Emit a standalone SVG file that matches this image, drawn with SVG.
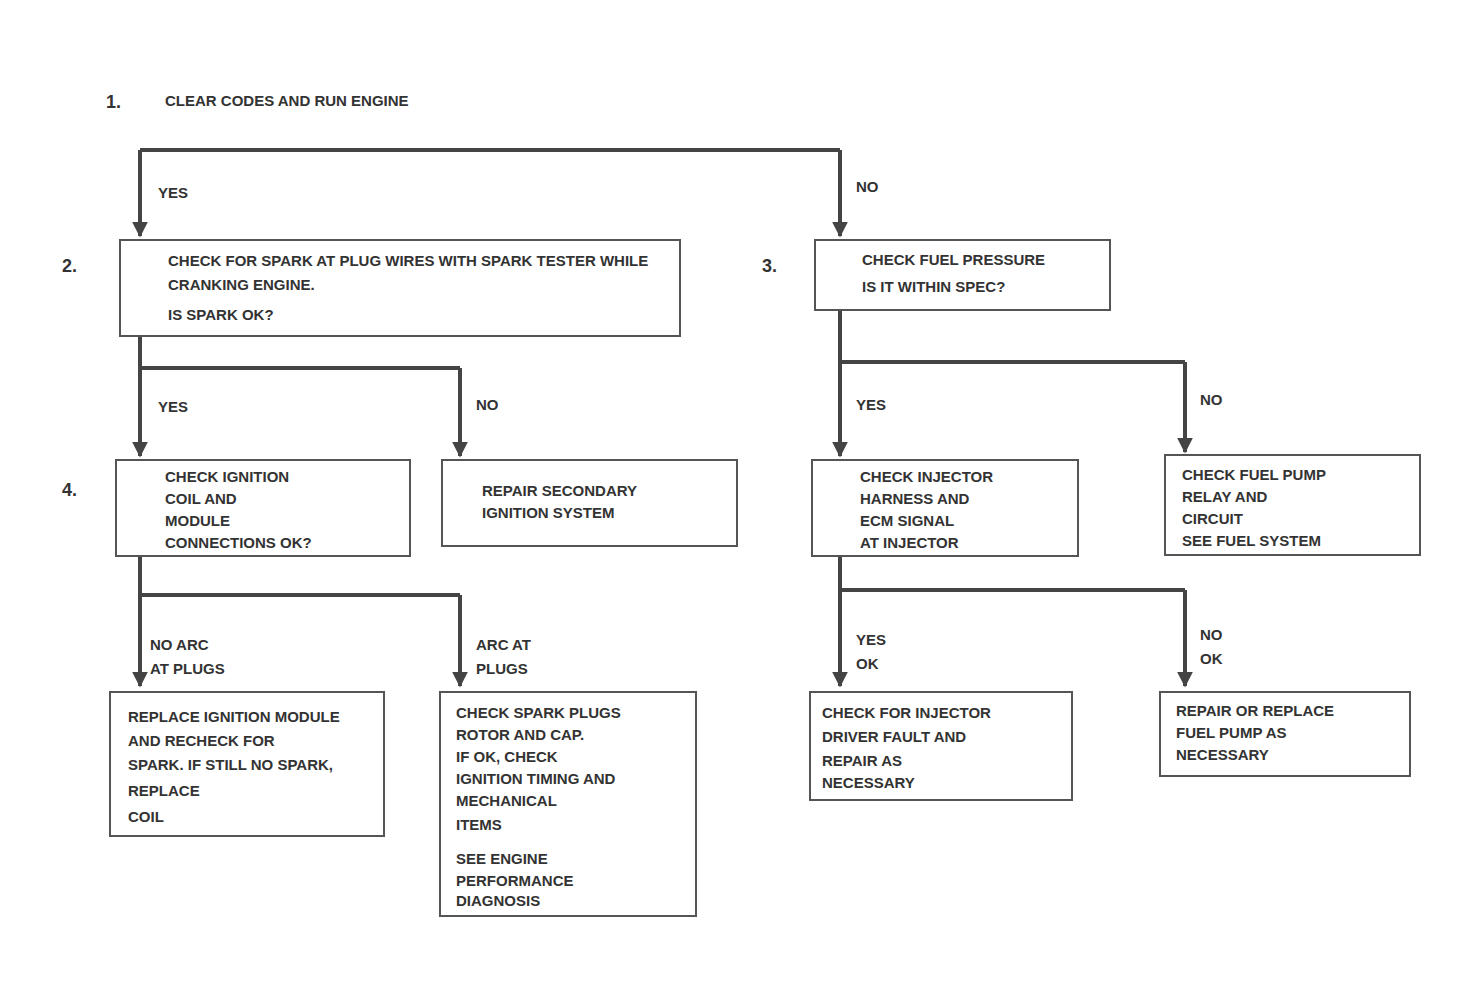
<svg xmlns="http://www.w3.org/2000/svg" width="1482" height="993" viewBox="0 0 1482 993">
<defs>
<style>
.box{fill:#fff;stroke:#555;stroke-width:2}
.t{font-family:"Liberation Sans",Arial,sans-serif;font-size:15px;font-weight:bold;fill:#333}
.n{font-family:"Liberation Sans",Arial,sans-serif;font-size:18px;font-weight:bold;fill:#333}
.c{fill:none;stroke:#444;stroke-width:4}
</style>
<marker id="ah" viewBox="0 0 10 10" refX="9" refY="5" markerWidth="4" markerHeight="4" orient="auto"><path d="M0,0L10,5L0,10z" fill="#444"/></marker>
</defs>
<rect width="1482" height="993" fill="#fff"/>
<g id="connectors">
<path class="c" d="M140,150H840"/>
<path class="c" d="M140,150V236" marker-end="url(#ah)"/>
<path class="c" d="M840,150V236" marker-end="url(#ah)"/>
<path class="c" d="M140,336V368H460"/>
<path class="c" d="M140,368V456" marker-end="url(#ah)"/>
<path class="c" d="M460,368V456" marker-end="url(#ah)"/>
<path class="c" d="M840,310V362H1185"/>
<path class="c" d="M840,362V456" marker-end="url(#ah)"/>
<path class="c" d="M1185,362V452" marker-end="url(#ah)"/>
<path class="c" d="M140,556V595H460"/>
<path class="c" d="M140,595V686" marker-end="url(#ah)"/>
<path class="c" d="M460,595V686" marker-end="url(#ah)"/>
<path class="c" d="M840,556V590H1185"/>
<path class="c" d="M840,590V686" marker-end="url(#ah)"/>
<path class="c" d="M1185,590V686" marker-end="url(#ah)"/>
<text class="t" x="158" y="198">YES</text>
<text class="t" x="856" y="192">NO</text>
<text class="t" x="158" y="412">YES</text>
<text class="t" x="476" y="410">NO</text>
<text class="t" x="856" y="410">YES</text>
<text class="t" x="1200" y="405">NO</text>
<text class="t" x="150" y="650">NO  ARC</text>
<text class="t" x="150" y="674">AT PLUGS</text>
<text class="t" x="476" y="650">ARC AT</text>
<text class="t" x="476" y="674">PLUGS</text>
<text class="t" x="856" y="645">YES</text>
<text class="t" x="856" y="669">OK</text>
<text class="t" x="1200" y="640">NO</text>
<text class="t" x="1200" y="664">OK</text>
</g>
<g id="n1">
<text class="n" x="106" y="108">1.</text>
<text class="t" x="165" y="106">CLEAR CODES AND RUN ENGINE</text>
</g>
<g id="n2">
<text class="n" x="62" y="272">2.</text>
<rect class="box" x="120" y="240" width="560" height="96"/>
<text class="t" x="168" y="266">CHECK FOR SPARK AT PLUG WIRES WITH SPARK TESTER WHILE</text>
<text class="t" x="168" y="290">CRANKING ENGINE.</text>
<text class="t" x="168" y="320">IS SPARK OK?</text>
</g>
<g id="n3">
<text class="n" x="762" y="272">3.</text>
<rect class="box" x="815" y="240" width="295" height="70"/>
<text class="t" x="862" y="265">CHECK FUEL PRESSURE</text>
<text class="t" x="862" y="292">IS IT WITHIN SPEC?</text>
</g>
<g id="n4">
<text class="n" x="62" y="496">4.</text>
<rect class="box" x="116" y="460" width="294" height="96"/>
<text class="t" x="165" y="482">CHECK IGNITION</text>
<text class="t" x="165" y="504">COIL AND</text>
<text class="t" x="165" y="526">MODULE</text>
<text class="t" x="165" y="548">CONNECTIONS OK?</text>
</g>
<g id="n5">
<rect class="box" x="442" y="460" width="295" height="86"/>
<text class="t" x="482" y="496">REPAIR SECONDARY</text>
<text class="t" x="482" y="518">IGNITION SYSTEM</text>
</g>
<g id="n6">
<rect class="box" x="812" y="460" width="266" height="96"/>
<text class="t" x="860" y="482">CHECK INJECTOR</text>
<text class="t" x="860" y="504">HARNESS AND</text>
<text class="t" x="860" y="526">ECM SIGNAL</text>
<text class="t" x="860" y="548">AT INJECTOR</text>
</g>
<g id="n7">
<rect class="box" x="1165" y="455" width="255" height="100"/>
<text class="t" x="1182" y="480">CHECK FUEL PUMP</text>
<text class="t" x="1182" y="502">RELAY AND</text>
<text class="t" x="1182" y="524">CIRCUIT</text>
<text class="t" x="1182" y="546">SEE FUEL SYSTEM</text>
</g>
<g id="n8">
<rect class="box" x="110" y="692" width="274" height="144"/>
<text class="t" x="128" y="722">REPLACE IGNITION MODULE</text>
<text class="t" x="128" y="746">AND RECHECK FOR</text>
<text class="t" x="128" y="770">SPARK. IF STILL NO SPARK,</text>
<text class="t" x="128" y="796">REPLACE</text>
<text class="t" x="128" y="822">COIL</text>
</g>
<g id="n9">
<rect class="box" x="440" y="692" width="256" height="224"/>
<text class="t" x="456" y="718">CHECK SPARK PLUGS</text>
<text class="t" x="456" y="740">ROTOR AND CAP.</text>
<text class="t" x="456" y="762">IF OK, CHECK</text>
<text class="t" x="456" y="784">IGNITION TIMING AND</text>
<text class="t" x="456" y="806">MECHANICAL</text>
<text class="t" x="456" y="830">ITEMS</text>
<text class="t" x="456" y="864">SEE ENGINE</text>
<text class="t" x="456" y="886">PERFORMANCE</text>
<text class="t" x="456" y="906">DIAGNOSIS</text>
</g>
<g id="n10">
<rect class="box" x="810" y="692" width="262" height="108"/>
<text class="t" x="822" y="718">CHECK FOR INJECTOR</text>
<text class="t" x="822" y="742">DRIVER FAULT AND</text>
<text class="t" x="822" y="766">REPAIR AS</text>
<text class="t" x="822" y="788">NECESSARY</text>
</g>
<g id="n11">
<rect class="box" x="1160" y="692" width="250" height="84"/>
<text class="t" x="1176" y="716">REPAIR OR REPLACE</text>
<text class="t" x="1176" y="738">FUEL PUMP AS</text>
<text class="t" x="1176" y="760">NECESSARY</text>
</g>
</svg>
